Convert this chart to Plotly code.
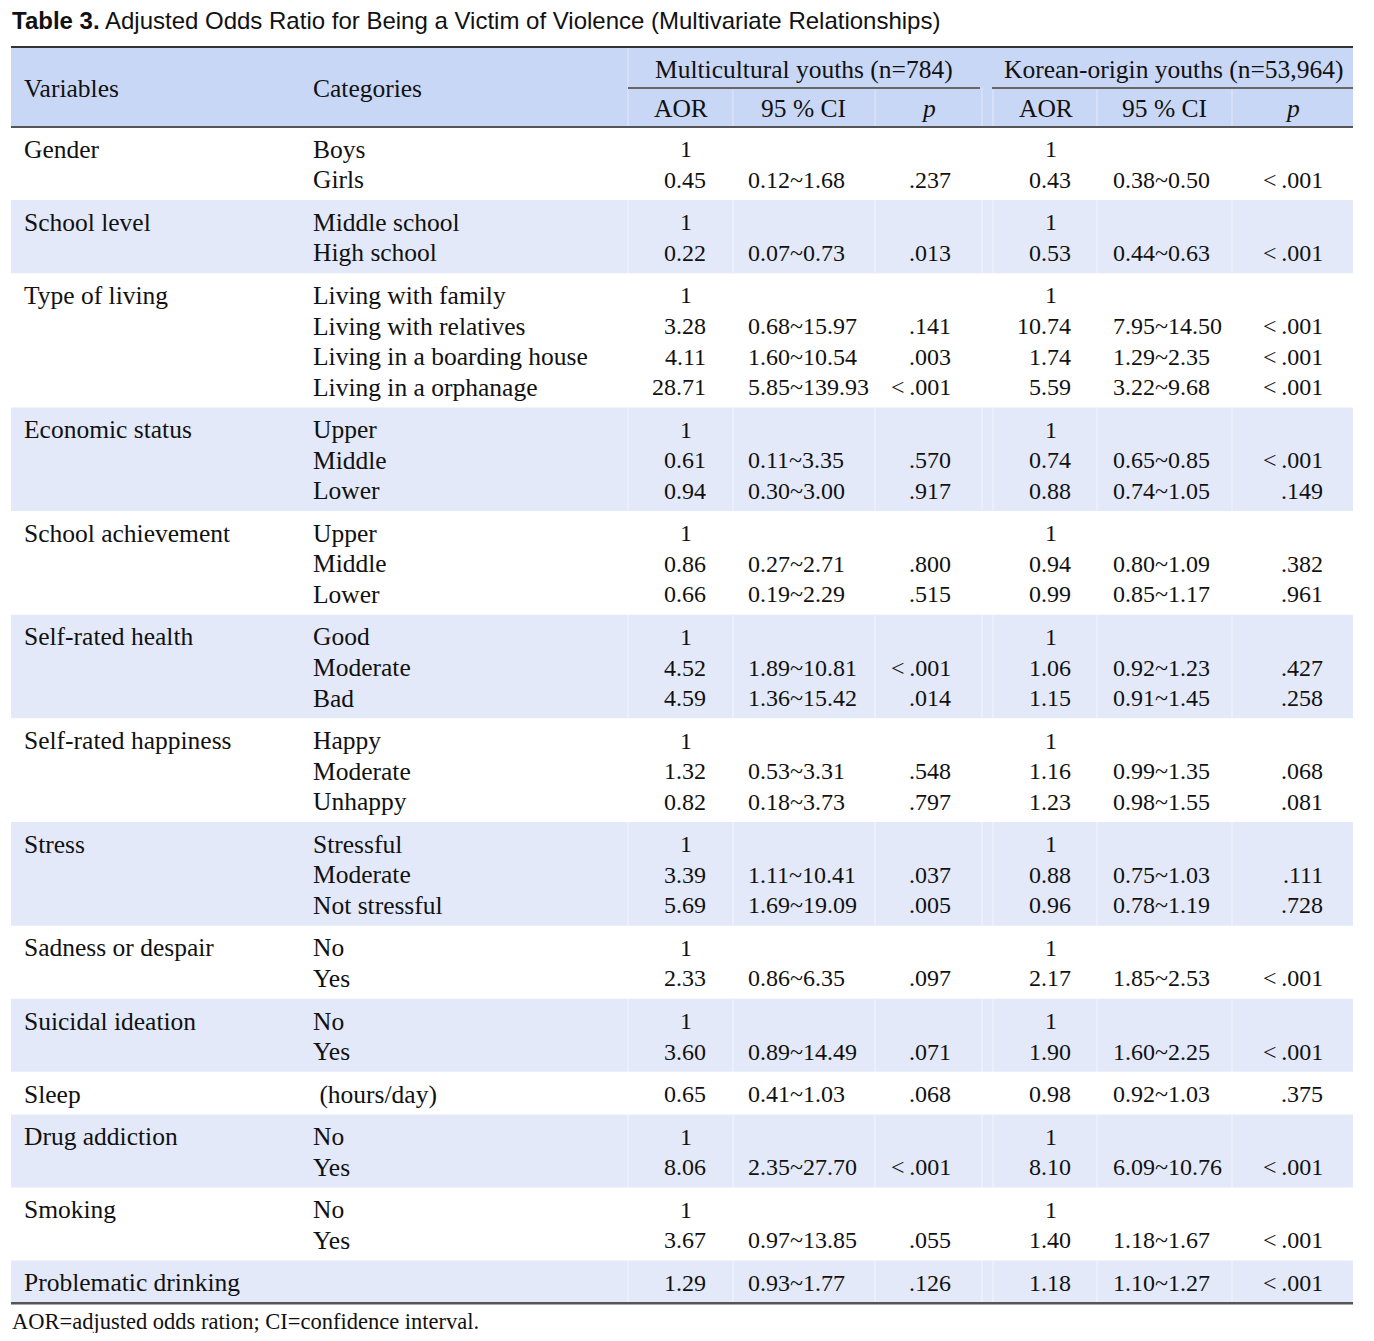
import plotly.graph_objects as go

# ---------------- data ----------------
title_bold = "Table 3."
title_rest = " Adjusted Odds Ratio for Being a Victim of Violence (Multivariate Relationships)"
footnote = "AOR=adjusted odds ration; CI=confidence interval."

group_headers = ["Multicultural youths (n=784)", "Korean-origin youths (n=53,964)"]
sub_headers = ["AOR", "95 % CI", "<i>p</i>"]

variables = ["Gender", "School level", "Type of living", "Economic status",
             "School achievement", "Self-rated health", "Self-rated happiness",
             "Stress", "Sadness or despair", "Suicidal ideation", "Sleep",
             "Drug addiction", "Smoking", "Problematic drinking"]

categories = [
    ["Boys", "Girls"],
    ["Middle school", "High school"],
    ["Living with family", "Living with relatives", "Living in a boarding house", "Living in a orphanage"],
    ["Upper", "Middle", "Lower"],
    ["Upper", "Middle", "Lower"],
    ["Good", "Moderate", "Bad"],
    ["Happy", "Moderate", "Unhappy"],
    ["Stressful", "Moderate", "Not stressful"],
    ["No", "Yes"],
    ["No", "Yes"],
    ["\u00a0(hours/day)"],
    ["No", "Yes"],
    ["No", "Yes"],
    [""],
]

multi_aor = ["1", "0.45", "1", "0.22", "1", "3.28", "4.11", "28.71", "1", "0.61", "0.94",
             "1", "0.86", "0.66", "1", "4.52", "4.59", "1", "1.32", "0.82", "1", "3.39", "5.69",
             "1", "2.33", "1", "3.60", "0.65", "1", "8.06", "1", "3.67", "1.29"]
multi_ci = ["", "0.12~1.68", "", "0.07~0.73", "", "0.68~15.97", "1.60~10.54", "5.85~139.93",
            "", "0.11~3.35", "0.30~3.00", "", "0.27~2.71", "0.19~2.29", "", "1.89~10.81",
            "1.36~15.42", "", "0.53~3.31", "0.18~3.73", "", "1.11~10.41", "1.69~19.09",
            "", "0.86~6.35", "", "0.89~14.49", "0.41~1.03", "", "2.35~27.70", "",
            "0.97~13.85", "0.93~1.77"]
multi_p = ["", ".237", "", ".013", "", ".141", ".003", "<.001", "", ".570", ".917",
           "", ".800", ".515", "", "<.001", ".014", "", ".548", ".797", "", ".037", ".005",
           "", ".097", "", ".071", ".068", "", "<.001", "", ".055", ".126"]

kor_aor = ["1", "0.43", "1", "0.53", "1", "10.74", "1.74", "5.59", "1", "0.74", "0.88",
           "1", "0.94", "0.99", "1", "1.06", "1.15", "1", "1.16", "1.23", "1", "0.88", "0.96",
           "1", "2.17", "1", "1.90", "0.98", "1", "8.10", "1", "1.40", "1.18"]
kor_ci = ["", "0.38~0.50", "", "0.44~0.63", "", "7.95~14.50", "1.29~2.35", "3.22~9.68",
          "", "0.65~0.85", "0.74~1.05", "", "0.80~1.09", "0.85~1.17", "", "0.92~1.23",
          "0.91~1.45", "", "0.99~1.35", "0.98~1.55", "", "0.75~1.03", "0.78~1.19",
          "", "1.85~2.53", "", "1.60~2.25", "0.92~1.03", "", "6.09~10.76", "",
          "1.18~1.67", "1.10~1.27"]
kor_p = ["", "<.001", "", "<.001", "", "<.001", "<.001", "<.001", "", "<.001", ".149",
         "", ".382", ".961", "", ".427", ".258", "", ".068", ".081", "", ".111", ".728",
         "", "<.001", "", "<.001", ".375", "", "<.001", "", "<.001", "<.001"]

# ---------------- layout geometry ----------------
W, H = 1374, 1341
OFF = 8                      # default page body margin
FIG_W, FIG_H = W - 2 * OFF, H - 2 * OFF
SERIF = "Liberation Serif"
SANS = "Liberation Sans"
FS_TXT = 25.5
FS_NUM = 24
TXT = "#111111"
HEAD_BG = "#c9d7f6"
ROW_BG = "#e3e9f9"
LINE = "#555555"

X_LEFT, X_RIGHT = 11, 1353
TOP_LINE = 47
HEAD_BOT = 127
SUB_LINE = 88
ROW_H = 30.55
PAD = 12

X_VAR = 24
X_CAT = 313
blocks = [
    dict(aor_r=706, one_c=686, ci_l=748, p_r=951, head_c=804, sub_c=[681, 803, 928],
         line=(628, 980), aor=multi_aor, ci=multi_ci, p=multi_p),
    dict(aor_r=1071, one_c=1051, ci_l=1113, p_r=1323, head_c=1173, sub_c=[1046, 1164, 1292],
         line=(992, 1353), aor=kor_aor, ci=kor_ci, p=kor_p),
]
SEPS = [628, 733, 875, 982, 993, 1097, 1232]

shapes = []
ann = []


def text(x, y, s, anchor="left", size=FS_TXT, family=SERIF, color=TXT):
    ann.append(dict(x=x, y=y, xref="x", yref="y", text=s, showarrow=False,
                    xanchor=anchor, yanchor="middle", borderpad=0, borderwidth=0,
                    font=dict(family=family, size=size, color=color)))


def esc(s):
    return s.replace("<.001", "&lt;\u2009.001")


# header background
shapes.append(dict(type="rect", x0=X_LEFT, x1=X_RIGHT, y0=TOP_LINE, y1=HEAD_BOT,
                   fillcolor=HEAD_BG, line=dict(width=0), layer="below"))
for sx in SEPS:
    shapes.append(dict(type="line", x0=sx, x1=sx, y0=SUB_LINE if sx != 628 else TOP_LINE, y1=HEAD_BOT,
                       line=dict(color="rgba(255,255,255,0.45)", width=1), layer="below"))

# body
y = HEAD_BOT
row = 0
for g, (var, cats) in enumerate(zip(variables, categories)):
    gh = PAD + ROW_H * len(cats)
    if g % 2 == 1:
        shapes.append(dict(type="rect", x0=X_LEFT, x1=X_RIGHT, y0=y, y1=y + gh,
                           fillcolor=ROW_BG, line=dict(width=0), layer="below"))
        for sx in SEPS:
            shapes.append(dict(type="line", x0=sx, x1=sx, y0=y, y1=y + gh,
                               line=dict(color="rgba(255,255,255,0.6)", width=1), layer="below"))
    yc0 = y + PAD / 2 + ROW_H / 2 + 1
    text(X_VAR, yc0, var)
    for k, c in enumerate(cats):
        yc = yc0 + k * ROW_H
        if c:
            text(X_CAT, yc, c)
        for b in blocks:
            a = b["aor"][row]
            if a == "1":
                text(b["one_c"], yc, a, "center", size=FS_NUM)
            elif a:
                text(b["aor_r"], yc, a, "right", size=FS_NUM)
            if b["ci"][row]:
                text(b["ci_l"], yc, b["ci"][row], "left", size=FS_NUM)
            if b["p"][row]:
                text(b["p_r"], yc, esc(b["p"][row]), "right", size=FS_NUM)
        row += 1
    y += gh
BOTTOM = y

# rules
shapes.append(dict(type="line", x0=X_LEFT, x1=X_RIGHT, y0=TOP_LINE, y1=TOP_LINE,
                   line=dict(color="#333333", width=2)))
shapes.append(dict(type="line", x0=X_LEFT, x1=X_RIGHT, y0=HEAD_BOT, y1=HEAD_BOT,
                   line=dict(color=LINE, width=2)))
shapes.append(dict(type="line", x0=X_LEFT, x1=X_RIGHT, y0=BOTTOM, y1=BOTTOM,
                   line=dict(color=LINE, width=2.5)))
for b in blocks:
    shapes.append(dict(type="line", x0=b["line"][0], x1=b["line"][1], y0=SUB_LINE, y1=SUB_LINE,
                       line=dict(color="#666666", width=2)))

# header text
text(X_VAR, (TOP_LINE + HEAD_BOT) / 2 + 1, "Variables")
text(X_CAT, (TOP_LINE + HEAD_BOT) / 2 + 1, "Categories")
for b, gname in zip(blocks, group_headers):
    text(b["head_c"], (TOP_LINE + SUB_LINE) / 2 + 2, gname, "center")
    for sc, sname in zip(b["sub_c"], sub_headers):
        text(sc, (SUB_LINE + HEAD_BOT) / 2 + 1, sname, "center")

# title & footnote
text(12, 20, "<b>" + title_bold + "</b>" + title_rest, "left", size=24, family=SANS, color="#111111")
text(12, BOTTOM + 18, footnote, "left", size=22.5)

fig = go.Figure()
fig.add_trace(go.Scatter(x=[OFF, W - OFF], y=[OFF, H - OFF], mode="markers",
                         marker=dict(opacity=0), hoverinfo="skip", showlegend=False))
fig.update_layout(
    width=FIG_W, height=FIG_H, margin=dict(l=0, r=0, t=0, b=0),
    paper_bgcolor="white", plot_bgcolor="white",
    xaxis=dict(range=[OFF, OFF + FIG_W], visible=False, fixedrange=True),
    yaxis=dict(range=[OFF + FIG_H, OFF], visible=False, fixedrange=True),
    shapes=shapes, annotations=ann, showlegend=False,
)
fig.write_html("out.html")
